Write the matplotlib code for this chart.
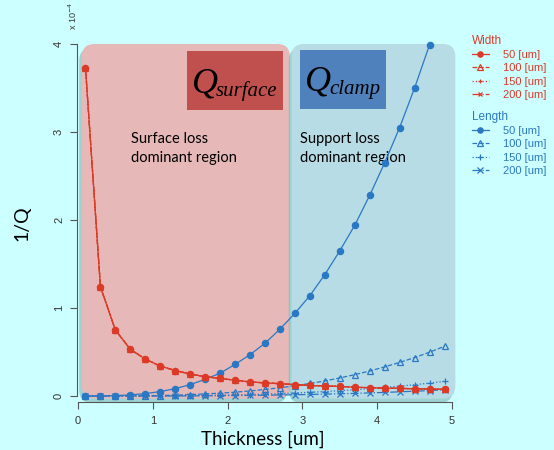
import numpy as np
import matplotlib.pyplot as plt
from matplotlib.patches import FancyBboxPatch, Rectangle
import matplotlib.patheffects as pe

# thickness [um]
thick = [0.1, 0.3, 0.5, 0.7, 0.9, 1.1, 1.3, 1.5, 1.7, 1.9, 2.1, 2.3, 2.5,
         2.7, 2.9, 3.1, 3.3, 3.5, 3.7, 3.9, 4.1, 4.3, 4.5, 4.7, 4.9]

# 1/Q (x1e-4), width sweep (surface loss) - all widths overlap
w_50 = [3.73, 1.24, 0.75, 0.53, 0.42, 0.34, 0.29, 0.25, 0.22, 0.20, 0.18, 0.16, 0.15,
        0.14, 0.13, 0.12, 0.115, 0.11, 0.10, 0.095, 0.09, 0.087, 0.083, 0.08, 0.076]
w_100 = w_50
w_150 = w_50
w_200 = w_50

# 1/Q (x1e-4), length sweep (support loss)
l_50 = [0.0, 0.001, 0.005, 0.013, 0.028, 0.051, 0.084, 0.13, 0.19, 0.26, 0.36, 0.47, 0.60,
        0.76, 0.94, 1.14, 1.38, 1.65, 1.94, 2.28, 2.65, 3.05, 3.50, 3.99]
l_100 = [0.0, 0.0, 0.001, 0.002, 0.004, 0.006, 0.011, 0.016, 0.024, 0.033, 0.044, 0.058, 0.075,
         0.094, 0.117, 0.143, 0.172, 0.206, 0.243, 0.285, 0.331, 0.382, 0.437, 0.498, 0.565]
l_150 = [0.0, 0.0, 0.0, 0.001, 0.001, 0.002, 0.003, 0.005, 0.007, 0.010, 0.013, 0.017, 0.022,
         0.028, 0.035, 0.042, 0.051, 0.061, 0.072, 0.084, 0.098, 0.113, 0.129, 0.147, 0.167]
l_200 = [0.0, 0.0, 0.0, 0.0, 0.0, 0.001, 0.001, 0.002, 0.003, 0.004, 0.006, 0.007, 0.009,
         0.012, 0.015, 0.018, 0.022, 0.026, 0.030, 0.036, 0.041, 0.048, 0.055, 0.062, 0.071]

size_labels = ['50 [um]', '100 [um]', '150 [um]', '200 [um]']

red = '#DC3A27'
blue = '#2A78C4'
bg = '#CCFFFF'

fig = plt.figure(figsize=(5.54, 4.5), dpi=100, facecolor=bg)
ax = fig.add_axes([0.1381, 0.1062, 0.6845, 0.8098])
ax.set_facecolor('none')
ax.set_xlim(-0.02, 5.05)
ax.set_ylim(-0.07, 4.07)

# shaded regions
shadow = [pe.SimplePatchShadow(offset=(-2, -3), shadow_rgbFace='#7fb5b5', alpha=0.6), pe.Normal()]
pink = FancyBboxPatch((0.053, -0.03), 2.78, 4.03, boxstyle='round,pad=0,rounding_size=0.17',
                      mutation_aspect=0.85, fc='#E6B8B7', ec='none', zorder=0)
pink.set_path_effects(shadow)
ax.add_patch(pink)
bluebox = FancyBboxPatch((2.855, -0.03), 2.19, 4.03, boxstyle='round,pad=0,rounding_size=0.17',
                         mutation_aspect=0.85, fc='#B7DCE5', ec='none', zorder=0)
bluebox.set_path_effects(shadow)
ax.add_patch(bluebox)

ax.add_patch(Rectangle((1.457, 3.25), 1.284, 0.67, fc='#C0504D', ec='none', zorder=1))
ax.add_patch(Rectangle((2.968, 3.26), 1.146, 0.67, fc='#4F81BD', ec='none', zorder=1))

serif = dict(family='Liberation Serif', style='italic', zorder=2)
q1 = ax.text(1.52, 3.45, 'Q', fontsize=26, ha='left', va='baseline', **serif)
ax.annotate('surface', xy=(0.92, -0.02), xycoords=q1, fontsize=15, ha='left', va='bottom', **serif)
q2 = ax.text(3.04, 3.47, 'Q', fontsize=26, ha='left', va='baseline', **serif)
ax.annotate('clamp', xy=(0.92, -0.02), xycoords=q2, fontsize=15, ha='left', va='bottom', **serif)

ax.text(0.71, 3.0, 'Surface loss\ndominant region', fontsize=10.5, family='Lato',
        ha='left', va='top', linespacing=1.45, zorder=2)
ax.text(2.968, 3.0, 'Support loss\ndominant region', fontsize=10.5, family='Lato',
        ha='left', va='top', linespacing=1.45, zorder=2)

styles = [('-', 'o', True), ('--', '^', False), (':', '+', False), ('-.', 'x', False)]
msz = {'o': 4.5, '^': 4.8, '+': 4.0, 'x': 3.0}
w_series = [w_50, w_100, w_150, w_200]
l_series = [l_50, l_100, l_150, l_200]

w_handles = []
for ys, (ls, mk, filled) in zip(w_series, styles):
    h, = ax.plot(thick[:len(ys)], ys, ls=ls, marker=mk, color=red, lw=0.9, ms=msz[mk],
                 mfc=red if filled else 'none', mew=0.9, zorder=4)
    w_handles.append(h)
l_handles = []
for ys, (ls, mk, filled) in zip(l_series, styles):
    h, = ax.plot(thick[:len(ys)], ys, ls=ls, marker=mk, color=blue, lw=0.9, ms=4.5,
                 mfc=blue if filled else 'none', mew=0.9, zorder=3)
    l_handles.append(h)

# R-like axes
for s in ['top', 'right']:
    ax.spines[s].set_visible(False)
ax.spines['left'].set_bounds(0, 4)
ax.spines['bottom'].set_bounds(0, 5)
ax.spines['left'].set_color('#555555')
ax.spines['bottom'].set_color('#555555')
ax.set_xticks([0, 1, 2, 3, 4, 5])
ax.set_yticks([0, 1, 2, 3, 4])
ax.tick_params(direction='out', length=5, color='#555555', labelsize=8, labelcolor='#333333')
ax.tick_params(axis='y', labelrotation=90, pad=4)
ax.tick_params(axis='x', pad=5)
for lab in ax.get_yticklabels():
    lab.set_va('center')
for lab in ax.get_xticklabels() + ax.get_yticklabels():
    lab.set_family('Liberation Sans')

fig.text(73 / 554, 1 - 16 / 450, r'x 10$^{-4}$', rotation=90, fontsize=6.5, color='#333333',
         family='Liberation Sans', ha='center', va='center')
fig.text(22 / 554, 1 - 223 / 450, '1/Q', rotation=90, fontsize=14, family='Lato',
         ha='center', va='center')
fig.text(263 / 554, 1 - 439 / 450, 'Thickness [um]', fontsize=13.5, family='Lato',
         ha='center', va='center')

leg_kw = dict(frameon=False, handlelength=1.6, handletextpad=1.2, markerscale=0.85,
              borderpad=0, labelspacing=0.3, alignment='left', title_fontsize=8.5,
              prop={'family': 'Liberation Sans', 'size': 8})
leg1 = fig.legend(w_handles, size_labels, title='Width', loc='upper left',
                  bbox_to_anchor=(466 / 554, 1 - 29 / 450), labelcolor=red, **leg_kw)
leg1.get_title().set_color(red)
leg1.get_title().set_family('Liberation Sans')
leg2 = fig.legend(l_handles, size_labels, title='Length', loc='upper left',
                  bbox_to_anchor=(466 / 554, 1 - 105 / 450), labelcolor=blue, **leg_kw)
leg2.get_title().set_color(blue)
leg2.get_title().set_family('Liberation Sans')

fig.savefig('out.png', dpi=100, facecolor=bg)
